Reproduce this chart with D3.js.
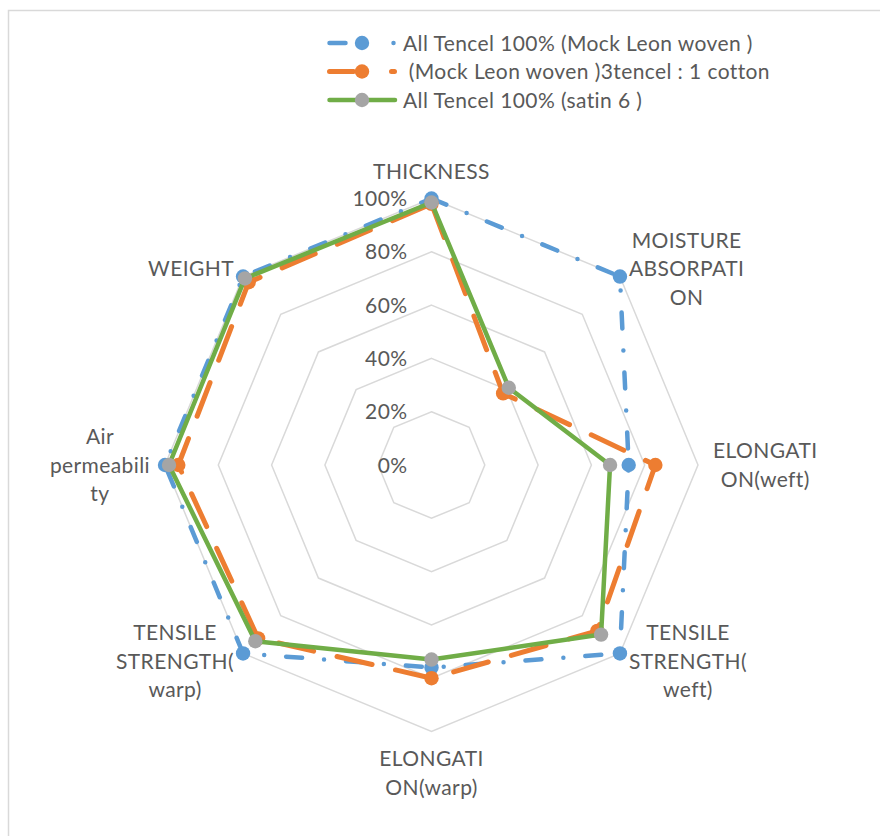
<!DOCTYPE html>
<html>
<head>
<meta charset="utf-8">
<script src="https://cdn.jsdelivr.net/npm/d3@7"></script>
<style>
  html, body { margin: 0; padding: 0; background: #fff; }
  svg text { font-family: Lato, "Open Sans", sans-serif; fill: #595959; letter-spacing: 0.4px; }
</style>
</head>
<body>
<svg id="chart" width="880" height="836"></svg>
<script>
// Category axes (label lines as wrapped in the chart)
const axisLabels = [
  ["THICKNESS"],
  ["MOISTURE", "ABSORPATI", "ON"],
  ["ELONGATI", "ON(weft)"],
  ["TENSILE", "STRENGTH(", "weft)"],
  ["ELONGATI", "ON(warp)"],
  ["TENSILE", "STRENGTH(", "warp)"],
  ["Air", "permeabili", "ty"],
  ["WEIGHT"]
];

const seriesNames = [
  "All Tencel 100% (Mock Leon woven )",
  " (Mock Leon woven )3tencel : 1 cotton",
  "All Tencel 100% (satin 6 )"
];

// Values in percent, one per axis in the order above
const mockLeonTencel = [100, 100, 74, 100, 76, 100, 100, 100];
const mockLeonBlend  = [98, 38, 84, 88, 80, 92, 95, 97];
const satinTencel    = [98.5, 41, 67, 90, 73, 93.5, 98.5, 99];

const tickValues = [0, 20, 40, 60, 80, 100];

const svg = d3.select("#chart");
const cx = 431.5, cy = 465, R = 266.5;
const n = axisLabels.length;
const fontSize = 21;

// Outer chart frame
svg.append("rect")
  .attr("x", 8.5).attr("y", 10.5)
  .attr("width", 900).attr("height", 900)
  .attr("fill", "none").attr("stroke", "#d9d9d9").attr("stroke-width", 1.5);

const r = d3.scaleLinear().domain([0, 100]).range([0, R]);
const angle = i => i * 2 * Math.PI / n;
const pt = (i, v) => [cx + r(v) * Math.sin(angle(i)), cy - r(v) * Math.cos(angle(i))];

// Octagonal gridlines
const grid = svg.append("g");
tickValues.filter(t => t > 0).forEach(t => {
  grid.append("path")
    .attr("d", d3.line()(d3.range(n).map(i => pt(i, t))) + "Z")
    .attr("fill", "none").attr("stroke", "#d9d9d9").attr("stroke-width", 1.5);
});

// Radial value tick labels
svg.append("g").selectAll("text").data(tickValues).join("text")
  .attr("x", cx - 24)
  .attr("y", d => cy - r(d))
  .attr("dy", "0.36em")
  .attr("text-anchor", "end")
  .attr("font-size", fontSize)
  .text(d => d + "%");

// Category labels placed just outside each vertex
const lh = 28.5;
const labels = svg.append("g");
axisLabels.forEach((lines, i) => {
  const [vx, vy] = pt(i, 100);
  const sx = Math.sin(angle(i)), sy = -Math.cos(angle(i));
  const g = labels.append("g");
  const t = g.append("text").attr("font-size", fontSize).attr("text-anchor", "middle");
  lines.forEach((s, k) => t.append("tspan").attr("x", 0).attr("y", k * lh).attr("dy", "0.36em").text(s));
  const w = d3.max(t.selectAll("tspan").nodes(), nd => nd.getComputedTextLength());
  const h = (lines.length - 1) * lh;
  let x, y;
  if (Math.abs(sx) < 0.01) {
    x = vx;
    y = sy < 0 ? vy - 27 - h : vy + 27;
  } else {
    const gap = Math.abs(sy) < 0.01 ? 15 : 9;
    x = vx + Math.sign(sx) * (w / 2 + gap);
    y = vy + sy * 11 - h / 2;
  }
  g.attr("transform", `translate(${x},${y})`);
});

// Series
const series = [
  { name: seriesNames[0], values: mockLeonTencel, line: "#5b9bd5", marker: "#5b9bd5", width: 4.5, dash: "16,22,0,22", legendDash: "16,48,0,100" },
  { name: seriesNames[1], values: mockLeonBlend,  line: "#ed7d31", marker: "#ed7d31", width: 5,   dash: "36,24",       legendDash: "24,38,3,100" },
  { name: seriesNames[2], values: satinTencel,    line: "#70ad47", marker: "#a5a5a5", width: 4.5, dash: null,          legendDash: null }
];

const plot = svg.append("g");
series.forEach(s => {
  const pts = s.values.map((v, i) => pt(i, v));
  plot.append("path")
    .attr("d", d3.line()(pts) + "Z")
    .attr("fill", "none")
    .attr("stroke", s.line)
    .attr("stroke-width", s.width)
    .attr("stroke-linecap", "round")
    .attr("stroke-linejoin", "round")
    .attr("stroke-dasharray", s.dash);
  plot.append("g").selectAll("circle").data(pts).join("circle")
    .attr("cx", d => d[0]).attr("cy", d => d[1])
    .attr("r", 7.2).attr("fill", s.marker);
});

// Legend
const legend = svg.append("g");
series.forEach((s, k) => {
  const y = 43 + k * 28.5;
  legend.append("line")
    .attr("x1", 329.5).attr("x2", 395).attr("y1", y).attr("y2", y)
    .attr("stroke", s.line).attr("stroke-width", s.width)
    .attr("stroke-linecap", "round")
    .attr("stroke-dasharray", s.legendDash);
  legend.append("circle").attr("cx", 362).attr("cy", y).attr("r", 7.2).attr("fill", s.marker);
  legend.append("text")
    .attr("x", 403).attr("y", y).attr("dy", "0.36em")
    .attr("font-size", fontSize)
    .style("white-space", "pre")
    .text(s.name);
});
</script>
</body>
</html>
